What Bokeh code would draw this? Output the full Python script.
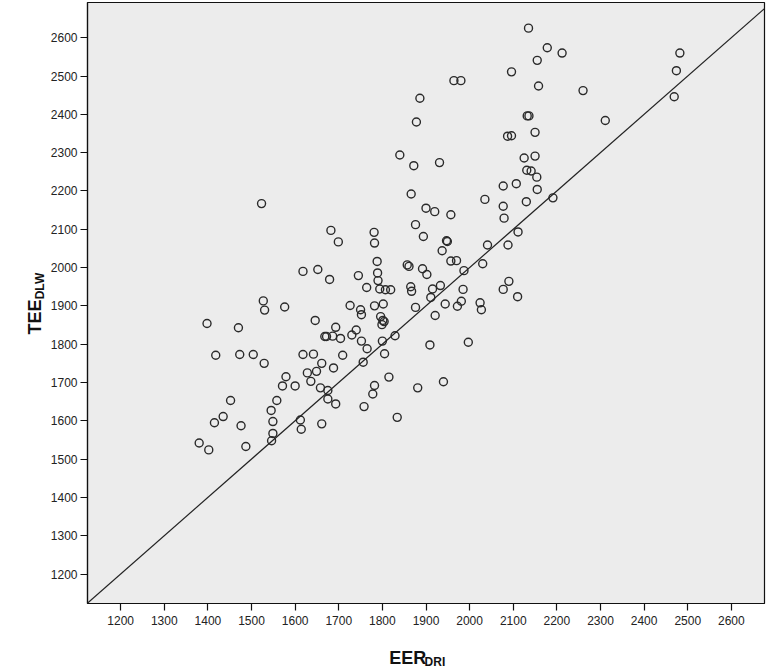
import math
from bokeh.plotting import figure
from bokeh.models import Slope, FixedTicker, Range1d
from bokeh.layouts import row, column
from bokeh.core.properties import value
from bokeh.embed import file_html
from bokeh.resources import INLINE

# ---- data ----
EER_DRI = [1452, 1435, 1415, 1476, 1380, 1402, 1487, 1571, 1600, 1636, 1558, 1545, 1549, 1549, 1546, 1612, 1614,
           1661, 1658, 1675, 1675, 1693,
           1758, 1782, 1778, 1881, 1940, 1834,
           1523, 1682, 1699, 1618, 1652, 1679, 1745, 1527, 1530, 1576, 1726, 1398, 1470, 1646, 1693, 1740, 1668,
           1672, 1686, 1704, 1730, 1418, 1473, 1504, 1529, 1618, 1642, 1661, 1709, 1688, 1649, 1628, 1579,
           1750, 1752, 1752, 1756, 1866, 1900, 1920, 1957, 2035, 2077, 2107, 2155, 2077, 2079, 2130, 1876, 1894,
           1947, 1949, 1937, 1957, 1970, 1781, 1782, 1788, 1789, 1790, 1794, 1807, 1819, 1802, 1782, 1764, 1796,
           1801, 1799, 1804, 1765, 1800, 1829, 1805, 1815, 1909, 1997, 1921, 1876, 1865, 1867, 1857, 1861, 1892,
           1902, 1915, 1933, 1911, 1944, 1985, 1981, 1972, 2024, 2027, 1987, 2030, 2041, 2088, 2111, 2090, 2077,
           2110,
           2191,
           2135, 2155, 2096, 2158, 1964, 1980, 1886, 1878, 2132, 2136, 2150, 2087, 2096, 1840, 1872, 1931, 2125,
           2150, 2131, 2141, 2154,
           2178, 2212, 2260, 2311, 2482, 2474, 2469]

TEE_DLW = [1653, 1611, 1595, 1587, 1542, 1524, 1533, 1691, 1691, 1703, 1653, 1627, 1598, 1567, 1548, 1602, 1578,
           1592, 1686, 1679, 1657, 1644,
           1637, 1692, 1670, 1686, 1702, 1609,
           2167, 2097, 2067, 1990, 1995, 1969, 1979, 1913, 1889, 1897, 1901, 1854, 1843, 1862, 1844, 1837, 1820,
           1820, 1821, 1815, 1824, 1771, 1773, 1773, 1750, 1773, 1774, 1750, 1771, 1738, 1729, 1725, 1715,
           1890, 1877, 1808, 1753, 2192, 2155, 2146, 2138, 2178, 2213, 2219, 2204, 2160, 2129, 2172, 2112, 2081,
           2070, 2068, 2044, 2017, 2018, 2092, 2064, 2016, 1986, 1966, 1944, 1942, 1942, 1905, 1900, 1948, 1872,
           1862, 1851, 1859, 1788, 1808, 1822, 1775, 1714, 1798, 1805, 1875, 1896, 1950, 1938, 2007, 2003, 1997,
           1982, 1944, 1953, 1922, 1905, 1943, 1912, 1899, 1908, 1890, 1992, 2010, 2059, 2059, 2093, 1964, 1943,
           1924,
           2182,
           2625, 2541, 2511, 2474, 2488, 2488, 2442, 2380, 2396, 2396, 2353, 2343, 2344, 2294, 2266, 2274, 2286,
           2291, 2254, 2252, 2236,
           2574, 2560, 2462, 2384, 2560, 2514, 2446]

TICKS = [1200, 1300, 1400, 1500, 1600, 1700, 1800, 1900, 2000, 2100, 2200, 2300, 2400, 2500, 2600]
X_LIMITS = (1124, 2676)
Y_LIMITS = (1123, 2692)

X_TITLE = ["EER", "DRI"]
Y_TITLE = ["TEE", "DLW"]

assert len(EER_DRI) == len(TEE_DLW)

FONT = "Liberation Sans"
INK = "#111111"

LEFT_W = 46      # width of the strip holding the y title
MAIN_W = 721
MAIN_H = 633
TOTAL_H = 672

# ---- main scatter ----
p = figure(width=MAIN_W, height=MAIN_H,
           x_range=Range1d(*X_LIMITS), y_range=Range1d(*Y_LIMITS),
           output_backend="svg", toolbar_location=None,
           min_border_left=41, min_border_right=3, min_border_top=2, min_border_bottom=30)

p.background_fill_color = "#ECECEC"
p.border_fill_color = "white"
p.outline_line_color = INK
p.outline_line_width = 1.2
p.grid.visible = False

for ax in (p.xaxis, p.yaxis):
    ax.ticker = FixedTicker(ticks=TICKS)
    ax.major_tick_out = 7
    ax.major_tick_in = 0
    ax.minor_tick_out = 0
    ax.minor_tick_in = 0
    ax.major_tick_line_color = INK
    ax.major_tick_line_width = 1.2
    ax.axis_line_color = INK
    ax.axis_line_width = 1.2
    ax.major_label_text_font = FONT
    ax.major_label_text_font_size = "12px"
    ax.major_label_text_color = "#222222"
p.xaxis.major_label_standoff = 5
p.yaxis.major_label_standoff = 3

# identity reference line y = x
p.add_layout(Slope(gradient=1, y_intercept=0, line_color="#222222", line_width=1.2))

p.scatter(EER_DRI, TEE_DLW, marker="circle", size=8, fill_color=None,
          line_color="#2a2a2a", line_width=1.4)


def blank(w, h):
    f = figure(width=w, height=h, x_range=Range1d(0, w), y_range=Range1d(0, h),
               x_axis_type=None, y_axis_type=None, output_backend="svg", toolbar_location=None,
               min_border=0, min_border_left=0, min_border_right=0, min_border_top=0, min_border_bottom=0)
    f.outline_line_color = None
    f.background_fill_color = "white"
    f.border_fill_color = "white"
    return f


def title_text(f, x, y, txt, size, angle=0.0):
    f.text(x=[x], y=[y], text=[txt], angle=angle, text_font=value(FONT), text_font_size=size,
           text_font_style="bold", text_color=INK, text_align="center", text_baseline="middle")


# ---- x axis title: EER with subscript DRI (strip under the plot) ----
XT_H = TOTAL_H - MAIN_H
xt = blank(MAIN_W, XT_H)
title_text(xt, 387 - LEFT_W, TOTAL_H - 657.5, X_TITLE[0], "18px")
title_text(xt, 416 - LEFT_W, TOTAL_H - 661.5, X_TITLE[1], "12px")

# ---- y axis title: TEE with subscript DLW (strip left of the plot) ----
yt = blank(LEFT_W, TOTAL_H)
title_text(yt, 34, TOTAL_H - 316.5, Y_TITLE[0], "18px", angle=math.pi / 2)
title_text(yt, 39, TOTAL_H - 285.5, Y_TITLE[1], "12px", angle=math.pi / 2)

layout = row(yt, column(p, xt, spacing=0), spacing=0)

open("out.html", "w").write(file_html(layout, INLINE))
